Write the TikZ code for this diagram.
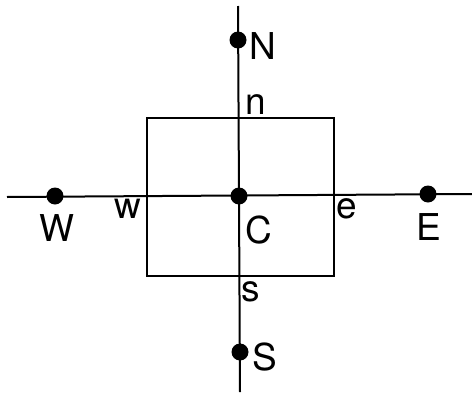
\documentclass[tikz,border=0pt]{standalone}
\usepackage{fontspec}
\setmainfont{TeX Gyre Heros}
\begin{document}
\begin{tikzpicture}[x=1pt,y=-1pt,
  ln/.style={line width=2pt},
  dot/.style={circle,fill=black,inner sep=0pt,minimum size=17pt},
  lbl/.style={inner sep=0pt,font=\fontsize{37}{40}\selectfont},
  cv/.style={rectangle,draw,line width=2pt,minimum width=187pt,minimum height=158pt,inner sep=0pt}]
\useasboundingbox (0,0) rectangle (472,394);
\node[cv] (box) at (240,197) {};
\coordinate (top) at (238,6);
\coordinate (bot) at (240,392);
\coordinate (lft) at (7,197);
\coordinate (rgt) at (472,194);
\draw[ln] (top) -- (bot);
\draw[ln] (lft) -- (rgt);
\node[dot] (N) at (238,40) {};
\node[dot] (C) at (239,196) {};
\node[dot] (S) at (240,352) {};
\node[dot] (W) at (55,196) {};
\node[dot] (E) at (428,194) {};
\node[lbl] (Nl) at (263,46) {N};
\node[lbl] (nl) at (256,105) {n};
\node[lbl] (Wl) at (57,228) {W};
\node[lbl] (wl) at (128,209) {w};
\node[lbl] (Cl) at (259,230) {C};
\node[lbl] (el) at (347,209) {e};
\node[lbl] (El) at (429,227) {E};
\node[lbl] (sl) at (251,292) {s};
\node[lbl] (Sl) at (265,357) {S};
\end{tikzpicture}
\end{document}
